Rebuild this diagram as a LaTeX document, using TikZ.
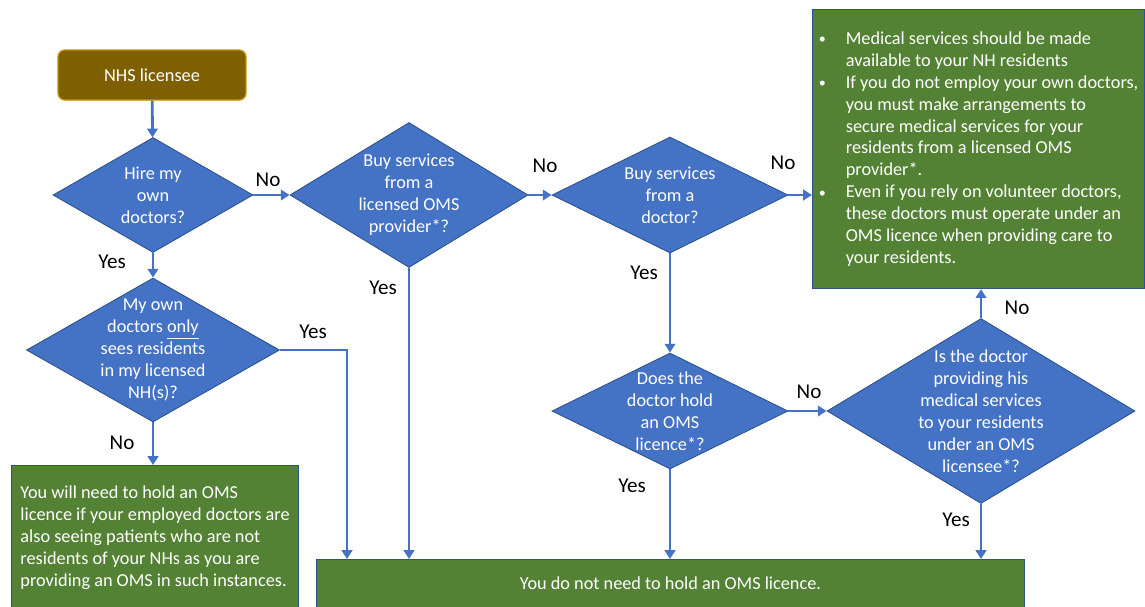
\documentclass[tikz,border=0pt]{standalone}
\usepackage{fontspec}
\setmainfont{Carlito}
\usetikzlibrary{shapes.geometric,arrows.meta}

\definecolor{qblue}{HTML}{4472C4}
\definecolor{qedge}{HTML}{2F528F}
\definecolor{okgreen}{HTML}{548235}
\definecolor{startfill}{HTML}{7F6000}
\definecolor{startedge}{HTML}{BF9000}

\newcommand{\nodefont}{\fontsize{10.4}{12.5}\selectfont}
\newcommand{\advbullet}{\makebox[0.54cm][l]{\raisebox{0.5pt}{\fontsize{8}{8}\selectfont\textbullet}}}
\newcommand{\advcont}{\hspace*{0.54cm}}

\tikzset{
  query/.style={diamond, draw=qedge, fill=qblue, inner sep=0pt, line width=0.5pt},
  qtext/.style={text=white, align=center, inner sep=0pt, font=\nodefont},
  outcome/.style={rectangle, draw=qedge, fill=okgreen, line width=0.7pt, text=white, font=\nodefont},
  flow/.style={qblue, line width=1.6pt, -{Triangle[width=6pt,length=5pt]}},
  lbl/.style={font=\fontsize{12}{14}\selectfont},
}

\begin{document}
\begin{tikzpicture}[x=0.02cm, y=-0.02cm]
  \useasboundingbox (0,0) rectangle (1145,606);
  \clip (0,0) rectangle (1145,606);

  % start
  \node[draw=startedge, fill=startfill, line width=0.8pt, rounded corners=4pt,
        minimum width=3.76cm, minimum height=1cm, text=white, font=\nodefont] (lic) at (152,75) {NHS licensee};

  % questions
  \node[query, minimum width=4cm, minimum height=2.3cm] (hire) at (153,195) {};
  \node[qtext] (hire-t) at (hire) {Hire my\\own\\doctors?};
  \node[query, minimum width=4.76cm, minimum height=2.9cm] (prov) at (409,195) {};
  \node[qtext] (prov-t) at (prov) {Buy services\\from a\\licensed OMS\\provider*?};
  \node[query, minimum width=4.72cm, minimum height=2.32cm] (doc) at (670,195) {};
  \node[qtext] (doc-t) at (doc) {Buy services\\from a\\doctor?};
  \node[query, minimum width=5.06cm, minimum height=2.88cm] (own) at (153,350) {};
  \node[qtext] (own-t) at (own) {My own\\doctors \underline{only}\\sees residents\\in my licensed\\NH(s)?};
  \node[query, minimum width=4.72cm, minimum height=2.32cm] (hold) at (670,411) {};
  \node[qtext] (hold-t) at (hold) {Does the\\doctor hold\\an OMS\\licence*?};
  \node[query, minimum width=6.16cm, minimum height=3.7cm] (under) at (981,411) {};
  \node[qtext] (under-t) at (under) {Is the doctor\\providing his\\medical services\\to your residents\\under an OMS\\licensee*?};

  % outcomes
  \node[outcome, anchor=north west, minimum width=6.64cm, minimum height=5.58cm, align=left] (advice) at (812,9) {%
    \advbullet Medical services should be made\\\advcont available to your NH residents\\
    \advbullet If you do not employ your own doctors,\\\advcont you must make arrangements to\\
    \advcont secure medical services for your\\\advcont residents from a licensed OMS\\
    \advcont provider*.\\
    \advbullet Even if you rely on volunteer doctors,\\\advcont these doctors must operate under an\\
    \advcont OMS licence when providing care to\\\advcont your residents.};
  \node[outcome, anchor=north west, minimum width=5.74cm, minimum height=2.9cm, align=left] (need) at (11,465) {You will need to hold an OMS\\licence if your employed doctors are\\also seeing patients who are not\\residents of your NHs as you are\\providing an OMS in such instances.};
  \node[outcome, anchor=north west, minimum width=14.16cm, minimum height=0.96cm] (done) at (316,559) {You do not need to hold an OMS licence.};

  \coordinate (yes-in) at (347,559);

  % connectors
  \draw[flow] (lic) -- (hire);
  \draw[flow] (hire) -- (prov);
  \draw[flow] (prov) -- (doc);
  \draw[flow] (doc.east) -- (doc.east -| advice.west);
  \draw[flow] (hire) -- (own);
  \draw[flow] (own.east) -| (yes-in);
  \draw[flow] (own.south) -- (own.south |- need.north);
  \draw[flow] (prov.south) -- (prov.south |- done.north);
  \draw[flow] (doc) -- (hold);
  \draw[flow] (hold.south) -- (hold.south |- done.north);
  \draw[flow] (hold) -- (under);
  \draw[flow] (under.north) -- (under.north |- advice.south);
  \draw[flow] (under.south) -- (under.south |- done.north);

  % answers
  \node[lbl] (no-1) at (268,180) {No};
  \node[lbl] (no-2) at (545,166) {No};
  \node[lbl] (no-3) at (783,163) {No};
  \node[lbl] (yes-1) at (112,262) {Yes};
  \node[lbl] (yes-2) at (383,288) {Yes};
  \node[lbl] (yes-3) at (644,273) {Yes};
  \node[lbl] (yes-4) at (313,332) {Yes};
  \node[lbl] (no-4) at (122,443) {No};
  \node[lbl] (yes-5) at (632,486) {Yes};
  \node[lbl] (no-5) at (809,392) {No};
  \node[lbl] (no-6) at (1017,308) {No};
  \node[lbl] (yes-6) at (956,520) {Yes};
\end{tikzpicture}
\end{document}
